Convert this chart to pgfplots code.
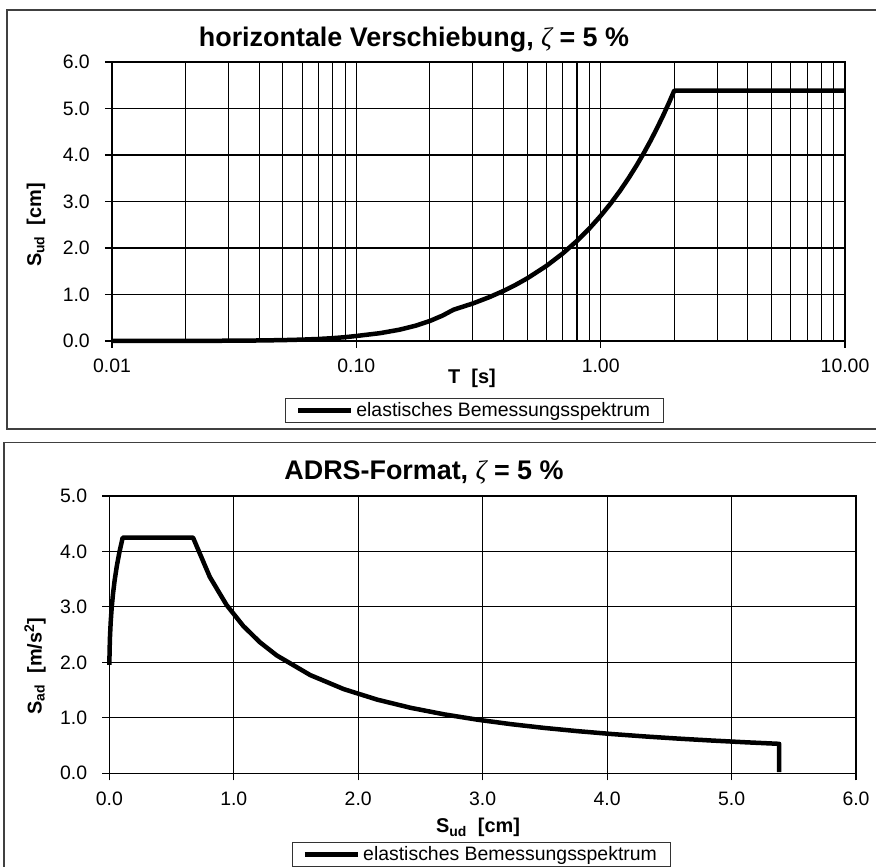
\documentclass[border=0pt]{standalone}
\usepackage{fontspec}
\setmainfont{Liberation Sans}
\newfontfamily\symf{Liberation Serif}
\usepackage{pgfplots}
\usepackage{pgfplotstable}
\pgfplotsset{compat=1.18}

\pgfplotstableread{
T      Sd        Sa
0.01   0.000495  1.955
0.02   0.002239  2.210
0.03   0.005620  2.465
0.04   0.011020  2.720
0.05   0.018840  2.975
0.06   0.029450  3.230
0.07   0.043260  3.485
0.08   0.060630  3.740
0.09   0.081970  3.995
0.10   0.107650  4.250
0.125  0.168210  4.250
0.15   0.242220  4.250
0.175  0.329700  4.250
0.20   0.430620  4.250
0.225  0.545000  4.250
0.25   0.672840  4.250
0.30   0.807400  3.5417
0.35   0.942000  3.0357
0.40   1.076500  2.6563
0.45   1.211100  2.3611
0.50   1.345700  2.1250
0.60   1.614800  1.7708
0.70   1.883900  1.5179
0.80   2.153100  1.3281
0.90   2.422200  1.1806
1.00   2.691300  1.0625
1.10   2.960500  0.9659
1.20   3.229600  0.8854
1.30   3.498700  0.8173
1.40   3.767900  0.7589
1.50   4.037000  0.7083
1.60   4.306100  0.6641
1.70   4.575300  0.6250
1.80   4.844400  0.5903
1.90   5.113500  0.5592
2.00   5.382700  0.53125
2.50   5.382700  0.3400
3.00   5.382700  0.2361
4.00   5.382700  0.1328
5.00   5.382700  0.0850
6.00   5.382700  0.0590
8.00   5.382700  0.0332
10.00  5.382700  0.02125
}\spec

\pgfplotsset{
  mystyle/.style={
    scale only axis,
    clip=false,
    axis line style={black, line width=1.1bp},
    grid=major,
    grid style={black, line width=1.1bp},
    minor grid style={black, line width=1.1bp},
    tick align=outside,
    major tick length=7bp,
    minor tick length=0pt,
    tick style={black, line width=1.1bp},
    xtick pos=bottom, ytick pos=left,
    tick label style={font=\fontsize{19.5}{22}\selectfont},
    /pgf/number format/assume math mode=true,
    yticklabel style={anchor=east, inner sep=0pt, xshift=-15bp},
    xticklabel style={anchor=north, inner sep=0pt, yshift=-11bp},
    legend cell align=left,
    legend image code/.code={\draw[#1] (0bp,0bp) -- (53bp,0bp);},
    legend style={anchor=center, draw=black!80, line width=0.8bp,
      font=\fontsize{19.5}{22}\selectfont, inner xsep=10bp, inner ysep=1bp,
      nodes={inner sep=3bp}},
  }
}

\begin{document}
\begin{tikzpicture}[x=1bp,y=1bp]
\useasboundingbox (0,0) rectangle (876,867);
% panel frames
\draw[black!75, line width=1.5bp] (7,857) rectangle (890,438);
\draw[black!75, line width=1.5bp] (4,424.5) rectangle (890,-10);

% ---------- top chart ----------
\begin{axis}[mystyle,
  at={(112bp,526bp)}, anchor=south west,
  width=733bp, height=279bp,
  xmode=log, xmin=0.01, xmax=10,
  ymin=0, ymax=6,
  xtick={0.01,0.1,1,10},
  xticklabels={0.01,0.10,1.00,10.00},
  minor xtick={0.02,0.03,0.04,0.05,0.06,0.07,0.08,0.09,0.2,0.3,0.4,0.5,0.6,0.7,0.8,0.9,2,3,4,5,6,7,8,9},
  xminorgrids=true,
  ytick={0,1,2,3,4,5,6},
  yticklabel={\pgfmathprintnumber[fixed,fixed zerofill,precision=1]{\tick}},
  legend style={at={(0.4945,-0.2487)}},
]
\addplot[black, line width=4.5bp, line join=round] table[x=T, y=Sd] {\spec};
\addlegendentry{elastisches Bemessungsspektrum}
\end{axis}

% ---------- bottom chart ----------
\begin{axis}[mystyle,
  at={(109.3bp,93.7bp)}, anchor=south west,
  width=746.7bp, height=277.3bp,
  xmin=0, xmax=6, ymin=0, ymax=5,
  xtick={0,1,2,3,4,5,6},
  ytick={0,1,2,3,4,5},
  xticklabel={\pgfmathprintnumber[fixed,fixed zerofill,precision=1]{\tick}},
  yticklabel={\pgfmathprintnumber[fixed,fixed zerofill,precision=1]{\tick}},
  legend style={at={(0.4982,-0.2928)}},
]
\addplot[black, line width=4.5bp, line join=round] table[x=Sd, y=Sa] {\spec};
\addlegendentry{elastisches Bemessungsspektrum}
\end{axis}

% titles
\node[anchor=base, font=\fontsize{27}{30}\selectfont\bfseries] at (414,820)
  {horizontale Verschiebung, {\symf\itshape\mdseries ζ} = 5 \%};
\node[anchor=base, font=\fontsize{27}{30}\selectfont\bfseries] at (424,387)
  {ADRS-Format, {\symf\itshape\mdseries ζ} = 5 \%};

% axis labels
\node[anchor=base, font=\fontsize{20}{24}\selectfont\bfseries] at (472,483) {T\ \ [s]};
\node[anchor=base, font=\fontsize{20}{24}\selectfont\bfseries] at (478,34) {S\textsubscript{ud}\ \ [cm]};
\node[rotate=90, font=\fontsize{20}{24}\selectfont\bfseries] at (36,642) {S\textsubscript{ud}\ \ [cm]};
\node[rotate=90, font=\fontsize{20}{24}\selectfont\bfseries] at (35,201) {S\textsubscript{ad}\ \ [m/s\textsuperscript{2}]};
\end{tikzpicture}
\end{document}
